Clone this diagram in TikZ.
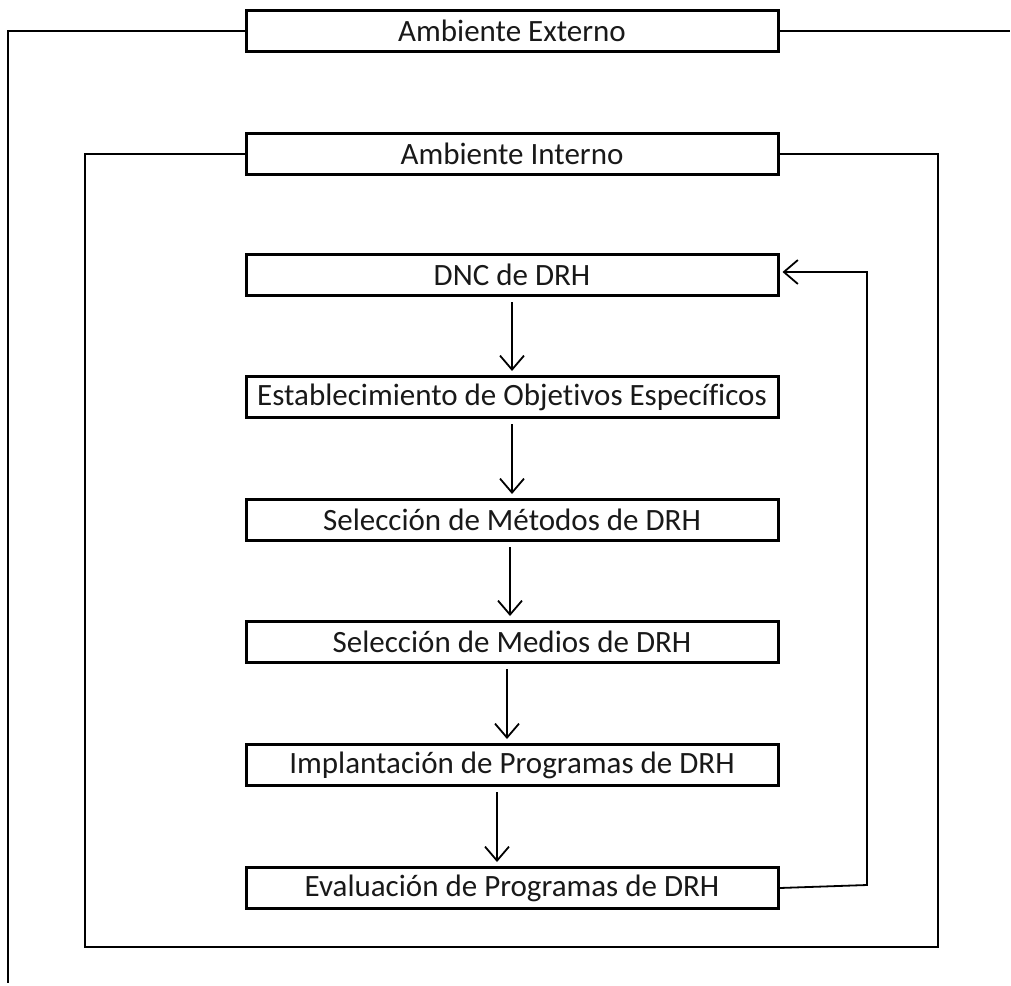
\documentclass[tikz,border=0pt]{standalone}
\usepackage{fontspec}
\setmainfont{Carlito}[Ligatures=NoCommon]
\usetikzlibrary{arrows.meta,calc}
\begin{document}
\begin{tikzpicture}[x=1pt,y=-1pt,
  stagebox/.style={draw,line width=3pt,minimum width=532pt,minimum height=41pt,
    inner sep=0pt,font=\fontsize{31}{36}\selectfont,text=black!90},
  wire/.style={line width=1.8pt},
  flow/.style={wire,-{Straight Barb[length=14pt,width=24pt,line width=1.8pt]}}]
\useasboundingbox (0,0) rectangle (1011,985);
% environment and process boxes
\node[stagebox] (ext) at (512,31) {Ambiente Externo};
\node[stagebox] (int) at (512,154) {Ambiente Interno};
\node[stagebox] (dnc) at (512,275) {DNC de DRH};
\node[stagebox] (obj) at (512,397) {Establecimiento de Objetivos Específicos};
\node[stagebox] (met) at (512,520) {Selección de Métodos de DRH};
\node[stagebox] (med) at (512,642) {Selección de Medios de DRH};
\node[stagebox] (imp) at (512,765) {Implantación de Programas de DRH};
\node[stagebox] (eva) at (512,888) {Evaluación de Programas de DRH};
% corners of the external frame
\coordinate (eL) at (8,31);
\coordinate (eLb) at (8,983);
\coordinate (eR) at (1010,31);
% corners of the internal frame
\coordinate (iL) at (85,154);
\coordinate (iLb) at (85,947);
\coordinate (iRb) at (938,947);
\coordinate (iR) at (938,154);
% feedback loop corners
\coordinate (fb1) at (867,885);
\coordinate (fb2) at (867,272);
\draw[wire] (ext.west) -- (eL) -- (eLb);
\draw[wire] (ext.east) -- (eR);
\draw[wire] (int.west) -- (iL) -- (iLb) -- (iRb) -- (iR) -- (int.east);
% sequence of stages
\draw[flow] ($(dnc.south)+(0,5)$) -- ($(obj.north)+(0,-4)$);
\draw[flow] ($(obj.south)+(0,5)$) -- ($(met.north)+(0,-4)$);
\draw[flow] ($(met.south)+(-2,5)$) -- ($(med.north)+(-2,-4)$);
\draw[flow] ($(med.south)+(-5,5)$) -- ($(imp.north)+(-5,-4)$);
\draw[flow] ($(imp.south)+(-15,5)$) -- ($(eva.north)+(-15,-4)$);
\draw[flow] (eva.east) -- (fb1) -- (fb2) -- ($(dnc.east)+(3,-3)$);
\end{tikzpicture}
\end{document}
